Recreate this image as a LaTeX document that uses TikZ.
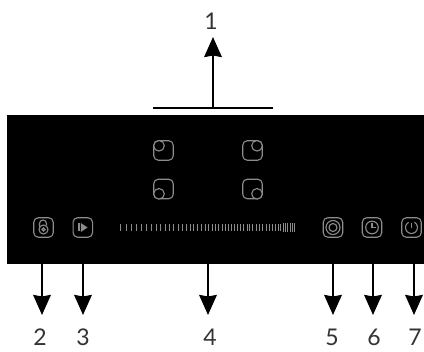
\documentclass[tikz,border=0pt]{standalone}
\usepackage{fontspec}
\setmainfont{Lato}
\usetikzlibrary{arrows.meta}
\definecolor{icongrey}{HTML}{8C8C8C}
\definecolor{labelgrey}{HTML}{333333}
\def\lwidth{2.5}
\def\bsize{19.5}

\begin{document}
\begin{tikzpicture}[x=1pt,y=-1pt,
		iconbox/.style={rectangle,draw=icongrey,line width=1.1pt,rounded corners=4.5pt,inner sep=0pt,minimum width=\bsize pt,minimum height=\bsize pt},
		iconline/.style={draw=icongrey,line width=1.1pt},
		keyline/.style={draw=black,line width=\lwidth pt},
		callout/.style={keyline,-{Stealth[length=20pt,width=17.5pt,inset=1.5pt]}},
		numlabel/.style={anchor=base,inner sep=0pt,text=labelgrey,font=\fontsize{23}{23}\selectfont}]
	\useasboundingbox (0,0) rectangle (424,352);
	\node[fill=black,inner sep=0pt,minimum width=417pt,minimum height=149pt] (panel) at (215.5,189.5) {};

	% zone keys
	\foreach \name/\bx/\by/\cx/\cy in {zonea/163.5/150.5/159/145.8,zoneb/252.5/150.5/257/145.8,zonec/163.5/189/159/193.8,zoned/252.5/189/257/193.8} {
		\node[iconbox] (\name) at (\bx,\by) {};
		\filldraw[iconline,fill=black] (\cx,\cy) circle (5.3);
	}

	% slider
	\foreach \t in {30,48,63,78,93,108,123,138,152,165,178,190,205,217,228,240,251,262,274,285,296,307,316,325,337,346,355,364,374,382,392,401,411,419,428,438,449,458,468,477,488,496,506,512}
		\draw[draw=icongrey,line width=0.8pt] (110+\t/3,224) -- (110+\t/3,231);
	\foreach \t in {520,526,532,542,548,554}
		\draw[draw=icongrey,line width=0.8pt] (110+\t/3,223) -- (110+\t/3,232);

	% lock
	\node[iconbox] (lock) at (43.5,227.5) {};
	\begin{scope}[shift={(lock.center)}]
		\draw[iconline] (0,2) circle (4.5);
		\draw[iconline] (0,2) circle (1.5);
		\draw[iconline] (-4,0) -- (-4,-4) arc[start angle=180,end angle=0,radius=3.5pt] -- (3,-2);
	\end{scope}

	% play
	\node[iconbox] (play) at (82.8,227.5) {};
	\begin{scope}[shift={(play.center)}]
		\fill[icongrey] (-4.5,-4) rectangle (-2.7,4);
		\fill[icongrey] (-2,-4.5) -- (4.8,0) -- (-2,4.5) -- cycle;
	\end{scope}

	% boost
	\node[iconbox] (boost) at (333,227.5) {};
	\draw[iconline] (boost.center) circle (7);
	\draw[iconline] (boost.center) circle (4);

	% timer
	\node[iconbox] (timer) at (372,227.5) {};
	\draw[iconline] (timer.center) circle (6.3);
	\draw[iconline] ([yshift=4pt]timer.center) -- (timer.center) -- ([xshift=4pt]timer.center);

	% power
	\node[iconbox] (power) at (411.5,227.5) {};
	\begin{scope}[shift={(power.center)}]
		\draw[iconline] (2.8,-5.3) arc[start angle=62,end angle=-242,radius=6pt];
		\draw[iconline,line width=1.5pt] (0,-4.5) -- (0,1);
	\end{scope}

	% numbers
	\node[numlabel] (n1) at (211,29.5) {1};
	\foreach \name/\lx/\txt in {n2/40/2,n3/83/3,n4/210/4,n5/332/5,n6/374/6,n7/415/7}
		\node[numlabel] (\name) at (\lx,346) {\txt};

	% top bar with arrow up
	\coordinate (barl) at (153,108);
	\coordinate (barr) at (273,108);
	\coordinate (barm) at (213,108);
	\coordinate (tipa) at (213,37);
	\draw[keyline,line width=2pt] (barl) -- (barr);
	\draw[callout] (barm) -- (tipa);

	% arrows down
	\foreach \name/\ax in {a2/42,a3/83,a4/208,a5/333,a6/373,a7/414} {
		\coordinate (\name s) at (\ax,247);
		\coordinate (\name e) at (\ax,315);
		\draw[callout] (\name s) -- (\name e);
	}
\end{tikzpicture}
\end{document}
